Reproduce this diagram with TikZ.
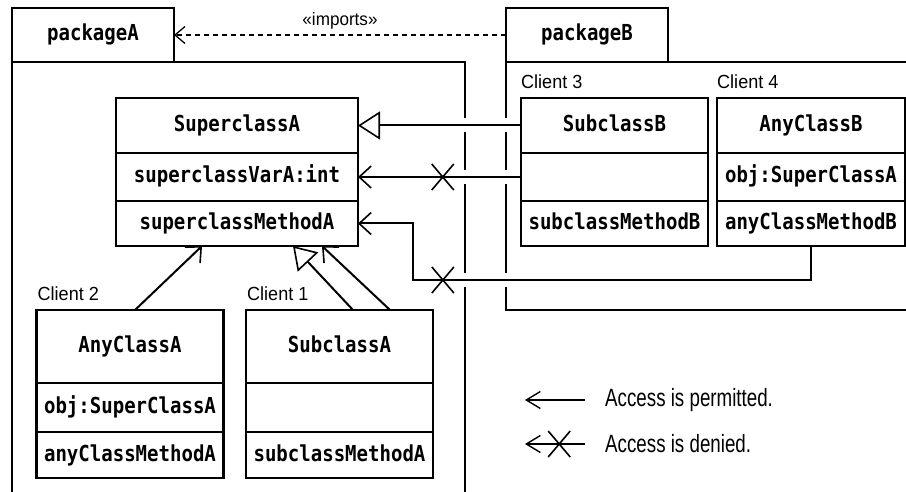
\documentclass[tikz,border=0pt]{standalone}
\usepackage{fontspec}
\usetikzlibrary{positioning,arrows.meta,shapes.misc}
\newfontfamily\codefont[FakeStretch=0.865]{DejaVu Sans Mono}
\newfontfamily\clientfont[FakeStretch=0.95]{Liberation Sans}
\newfontfamily\legendfont[FakeStretch=0.75]{Liberation Sans}

\begin{document}
\begin{tikzpicture}[x=1pt, y=-1pt,
    clsbox/.style={draw, line width=2.2pt, inner sep=0pt, outer sep=0pt, minimum width=187pt,
      text height=16pt, text depth=4pt, font=\fontsize{22}{24}\codefont\bfseries},
    pkgtab/.style={clsbox, minimum width=162pt, minimum height=54pt},
    pkgline/.style={line width=2.2pt},
    clientlbl/.style={inner sep=0pt, font=\fontsize{19}{22}\clientfont},
    importslbl/.style={inner sep=0pt, font=\fontsize{18}{20}\clientfont},
    legendlbl/.style={inner sep=0pt, font=\fontsize{25}{28}\legendfont},
    accessarrow/.style={line width=2pt, -{Straight Barb[length=12pt, width=22pt, line width=1.6pt]}},
    inheritarrow/.style={line width=2pt, -{Triangle[open, length=22pt, width=28pt, line width=1.6pt]}},
    importsarrow/.style={line width=1.3pt, dash pattern=on 5pt off 4pt,
      -{Straight Barb[length=10pt, width=17pt, line width=1.3pt]}},
    legendarrow/.style={line width=1.5pt, -{Straight Barb[length=14pt, width=17pt, line width=1.4pt]}},
    deniedmark/.style={draw, cross out, line width=1.6pt, minimum width=22pt, minimum height=26pt,
      inner sep=0pt, outer sep=0pt}]
    %Bildbereich
    \useasboundingbox (0,0) rectangle (906,492);
    % Pakete zeichnen
    \node[pkgtab] (pkgA) at (93,35) {packageA};
    \node[pkgtab] (pkgB) at (587,35) {packageB};
    \draw[pkgline] (12,500) -- (pkgA.south west) -- (465,62) -- (465,500);
    \draw[pkgline] (920,62) -- (pkgB.south west) -- (506,310) -- (920,310);
    % Luecken, wo die Pfeile die Pakete kreuzen
    \foreach \y in {125.5,177,280} \foreach \x in {465,506} \fill[white] (\x-3.5,\y-7) rectangle (\x+3.5,\y+7);
    % Klassen in packageA
    \node[clsbox, minimum width=242pt, minimum height=55pt] (supA) at (237,125.5) {SuperclassA};
    \node[clsbox, minimum width=242pt, minimum height=48pt, below=0pt of supA] (supAvar) {superclassVarA:int};
    \node[clsbox, minimum width=242pt, minimum height=45pt, below=0pt of supAvar] (supAop) {superclassMethodA};
    \node[clsbox, minimum height=73pt] (anyA) at (130,346.5) {AnyClassA};
    \node[clsbox, minimum height=49pt, below=0pt of anyA] (anyAvar) {obj:SuperClassA};
    \node[clsbox, minimum height=46pt, below=0pt of anyAvar] (anyAop) {anyClassMethodA};
    \node[clsbox, minimum height=73pt] (subA) at (339.5,346.5) {SubclassA};
    \node[clsbox, minimum height=49pt, below=0pt of subA] (subAvar) {};
    \node[clsbox, minimum height=46pt, below=0pt of subAvar] (subAop) {subclassMethodA};
    % Klassen in packageB
    \node[clsbox, minimum height=55pt] (subB) at (614.5,125.5) {SubclassB};
    \node[clsbox, minimum height=48pt, below=0pt of subB] (subBvar) {};
    \node[clsbox, minimum height=45pt, below=0pt of subBvar] (subBop) {subclassMethodB};
    \node[clsbox, minimum width=188pt, minimum height=55pt] (anyB) at (811,125.5) {AnyClassB};
    \node[clsbox, minimum width=188pt, minimum height=48pt, below=0pt of anyB] (anyBvar) {obj:SuperClassA};
    \node[clsbox, minimum width=188pt, minimum height=45pt, below=0pt of anyBvar] (anyBop) {anyClassMethodB};
    % Clients beschriften
    \node[clientlbl, above right=9pt and 1pt of subA.north west] (cl1) {Client 1};
    \node[clientlbl, above right=9pt and 1pt of anyA.north west] (cl2) {Client 2};
    \node[clientlbl, above right=9pt and 0pt of subB.north west] (cl3) {Client 3};
    \node[clientlbl, above right=9pt and 0pt of anyB.north west] (cl4) {Client 4};
    % Pfeile zeichnen
    \draw[inheritarrow] (subB.west) -- (supA.east);
    \draw[accessarrow] (subBvar.west) -- node[deniedmark, pos=.48] (x1) {} (supAvar.east);
    \coordinate (bendB) at (413,280);
    \draw[accessarrow] (anyBop.south) |- node[deniedmark, pos=.9625] (x2) {} (bendB) |- (supAop.east);
    \draw[accessarrow] ([xshift=5pt]anyA.north) -- ([xshift=-35pt]supAop.south);
    \draw[inheritarrow] ([xshift=13.5pt]subA.north) -- ([xshift=56pt]supAop.south);
    \draw[accessarrow] ([xshift=50.5pt]subA.north) -- ([xshift=85pt]supAop.south);
    % imports
    \draw[importsarrow] (pkgB.west) -- node[importslbl, above=5pt] (imp) {«imports»} (pkgA.east);
    % Legende
    \coordinate (lg1a) at (585,400);
    \coordinate (lg1b) at (525,400);
    \coordinate (lg2a) at (585,444);
    \coordinate (lg2b) at (525,444);
    \draw[legendarrow] (lg1a) -- (lg1b);
    \draw[legendarrow] (lg2a) -- node[deniedmark, pos=.43] (x3) {} (lg2b);
    \node[legendlbl, right=20pt of lg1a] (perm) {Access is permitted.};
    \node[legendlbl, right=20pt of lg2a] (deny) {Access is denied.};
\end{tikzpicture}
\end{document}
